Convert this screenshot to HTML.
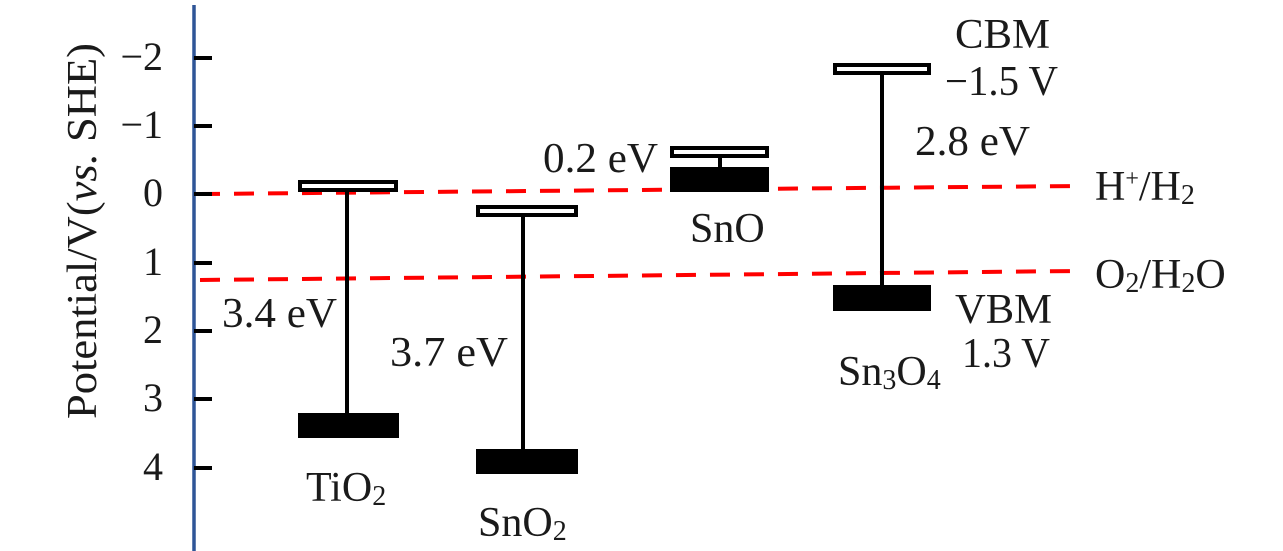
<!DOCTYPE html>
<html><head><meta charset="utf-8"><style>
html,body{margin:0;padding:0;background:#fff;}
svg{display:block;font-family:"Liberation Serif",serif;}
</style></head><body>
<svg width="1283" height="551" viewBox="0 0 1283 551" xmlns="http://www.w3.org/2000/svg">
<g stroke="#ff0000" stroke-width="4" stroke-dasharray="20,14">
<line x1="200" y1="194" x2="1078" y2="186"/>
<line x1="200" y1="280" x2="1078" y2="271"/>
</g>
<line x1="194" y1="5" x2="194" y2="551" stroke="#2f5597" stroke-width="3.5"/>
<g stroke="#000" stroke-width="4">
<line x1="194" y1="58" x2="212" y2="58"/>
<line x1="194" y1="126" x2="212" y2="126"/>
<line x1="194" y1="194" x2="212" y2="194"/>
<line x1="194" y1="263" x2="212" y2="263"/>
<line x1="194" y1="331" x2="212" y2="331"/>
<line x1="194" y1="399" x2="212" y2="399"/>
<line x1="194" y1="468" x2="212" y2="468"/>
</g>
<g font-size="40" fill="#1a1a1a" text-anchor="end">
<text x="163" y="70">−2</text>
<text x="163" y="138">−1</text>
<text x="163" y="206">0</text>
<text x="163" y="275">1</text>
<text x="163" y="343">2</text>
<text x="163" y="411">3</text>
<text x="163" y="480">4</text>
</g>
<text transform="translate(96,231) rotate(-90)" font-size="42" text-anchor="middle" fill="#1a1a1a" textLength="376" lengthAdjust="spacingAndGlyphs">Potential/V(<tspan font-style="italic">vs.</tspan> SHE)</text>
<g stroke="#000" stroke-width="4" fill="#fff">
<rect x="300" y="182" width="96" height="8"/>
<rect x="478" y="207" width="98" height="8"/>
<rect x="672" y="148" width="95" height="8"/>
<rect x="835" y="65" width="94" height="8"/>
</g>
<g stroke="#000" stroke-width="4">
<line x1="347" y1="192" x2="347" y2="414"/>
<line x1="523" y1="217" x2="523" y2="450"/>
<line x1="720" y1="158" x2="720" y2="168"/>
<line x1="882" y1="75" x2="882" y2="288"/>
</g>
<g fill="#000">
<rect x="298" y="413" width="101" height="25"/>
<rect x="476" y="449" width="102" height="25"/>
<rect x="670" y="167" width="99" height="25"/>
<rect x="833" y="285" width="98" height="26"/>
</g>
<g font-size="42" fill="#1a1a1a">
<text x="222" y="327" textLength="115" lengthAdjust="spacingAndGlyphs">3.4 eV</text>
<text x="390" y="366" textLength="118" lengthAdjust="spacingAndGlyphs">3.7 eV</text>
<text x="543" y="172" textLength="115" lengthAdjust="spacingAndGlyphs">0.2 eV</text>
<text x="915" y="155" textLength="115" lengthAdjust="spacingAndGlyphs">2.8 eV</text>
<text x="955" y="48" textLength="95" lengthAdjust="spacingAndGlyphs">CBM</text>
<text x="945" y="95" textLength="113" lengthAdjust="spacingAndGlyphs">−1.5 V</text>
<text x="955" y="323" textLength="97" lengthAdjust="spacingAndGlyphs">VBM</text>
<text x="962" y="367" textLength="88" lengthAdjust="spacingAndGlyphs">1.3 V</text>
<text x="306" y="501">TiO<tspan font-size="28" dy="4">2</tspan></text>
<text x="478" y="536">SnO<tspan font-size="28" dy="4">2</tspan></text>
<text x="690" y="242">SnO</text>
<text x="838" y="385">Sn<tspan font-size="28" dy="4">3</tspan><tspan dy="-4">O</tspan><tspan font-size="28" dy="4">4</tspan></text>
<text x="1095" y="200">H<tspan font-size="24" dy="-14">+</tspan><tspan dy="14">/H</tspan><tspan font-size="28" dy="4">2</tspan></text>
<text x="1095" y="288">O<tspan font-size="28" dy="4">2</tspan><tspan dy="-4">/H</tspan><tspan font-size="28" dy="4">2</tspan><tspan dy="-4">O</tspan></text>
</g>
</svg>
</body></html>
